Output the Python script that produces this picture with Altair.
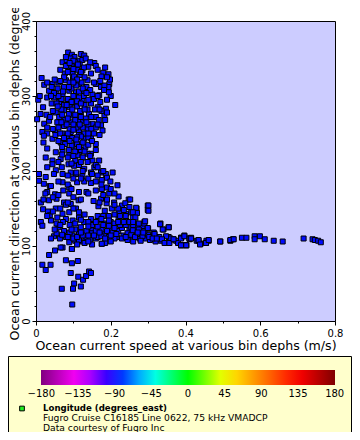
import altair as alt
import pandas as pd

# ---- data (speed m/s, direction degrees) ----
scatter_low = [
    (0.017, 75), (0.026, 68), (0.039, 75), (0.035, 88), (0.051, 94), (0.066, 98),
    (0.080, 81), (0.096, 77), (0.112, 80), (0.096, 96), (0.093, 64), (0.113, 59),
    (0.126, 55), (0.134, 60), (0.142, 66), (0.147, 64), (0.102, 50), (0.120, 46),
    (0.069, 43), (0.099, 43), (0.097, 22), (0.176, 103),
]

tail_east = [
    (0.388, 111), (0.397, 114), (0.411, 109), (0.415, 111), (0.388, 101), (0.402, 101),
    (0.435, 107), (0.440, 103), (0.455, 104), (0.462, 107), (0.493, 106), (0.520, 107),
    (0.527, 109), (0.551, 111), (0.563, 111), (0.585, 113), (0.599, 113), (0.585, 109),
    (0.612, 109), (0.636, 107), (0.660, 106), (0.716, 110), (0.740, 109), (0.746, 108),
    (0.755, 107), (0.762, 105),
    (0.252, 162), (0.268, 151), (0.270, 144), (0.259, 145), (0.301, 154), (0.301, 147),
    (0.266, 138), (0.260, 132), (0.275, 130), (0.290, 130), (0.292, 133), (0.299, 124),
    (0.259, 121), (0.272, 118), (0.287, 118), (0.303, 112), (0.317, 116), (0.312, 110),
    (0.323, 110), (0.332, 129), (0.339, 122), (0.355, 125), (0.348, 113), (0.337, 109),
    (0.344, 104), (0.357, 104), (0.368, 109), (0.388, 110), (0.397, 113), (0.411, 110),
    (0.415, 110), (0.388, 101), (0.402, 101), (0.435, 108), (0.439, 102), (0.455, 104),
    (0.462, 108), (0.493, 106), (0.520, 108), (0.529, 109),
]

cluster_upper = [
    (0.086, 358), (0.096, 355), (0.120, 356), (0.129, 354), (0.071, 345), (0.082, 348),
    (0.103, 352), (0.114, 347), (0.124, 348), (0.133, 350), (0.156, 344), (0.089, 338),
    (0.107, 338), (0.117, 342), (0.140, 339), (0.077, 330), (0.098, 330), (0.124, 334),
    (0.147, 330), (0.180, 331), (0.194, 329), (0.196, 316), (0.194, 312), (0.015, 324),
    (0.022, 315), (0.044, 316), (0.060, 318), (0.035, 307), (0.053, 305), (0.080, 321),
    (0.099, 323), (0.115, 316), (0.138, 321), (0.160, 316), (0.174, 312), (0.183, 314),
    (0.030, 298), (0.048, 298), (0.071, 302), (0.089, 307), (0.107, 305), (0.129, 307),
    (0.151, 302), (0.169, 301), (0.006, 295), (0.019, 285), (0.042, 290), (0.062, 292),
    (0.084, 294), (0.102, 290), (0.124, 294), (0.147, 290), (0.165, 285), (0.187, 283),
    (0.212, 288), (0.028, 275), (0.053, 278), (0.075, 281), (0.098, 274), (0.120, 278),
    (0.142, 276), (0.160, 272), (0.183, 274), (0.003, 269), (0.022, 263), (0.035, 267),
    (0.057, 265), (0.080, 267), (0.102, 263), (0.124, 267), (0.151, 263), (0.174, 261),
    (0.017, 252), (0.030, 250), (0.051, 254), (0.071, 250), (0.093, 252), (0.115, 254),
    (0.138, 256), (0.160, 258), (0.021, 247), (0.044, 243), (0.066, 238), (0.089, 243),
    (0.107, 241), (0.129, 243), (0.147, 244), (0.160, 236), (0.030, 230), (0.053, 225),
    (0.071, 227), (0.098, 232), (0.115, 225), (0.132, 232), (0.147, 223), (0.026, 218),
    (0.044, 214), (0.066, 216), (0.089, 221), (0.111, 221), (0.138, 223), (0.151, 214),
    (0.169, 214), (0.044, 209), (0.069, 205), (0.087, 209), (0.102, 207), (0.129, 203),
    (0.156, 205), (0.174, 198),
    (0.092, 350), (0.105, 345), (0.110, 335), (0.095, 340), (0.085, 332), (0.118, 328),
    (0.130, 325), (0.102, 326), (0.090, 318), (0.075, 312), (0.095, 310), (0.108, 314),
    (0.122, 318), (0.135, 312), (0.145, 308), (0.128, 300), (0.115, 298), (0.100, 300),
    (0.085, 296), (0.068, 296), (0.060, 300), (0.072, 306), (0.058, 310), (0.048, 304),
    (0.040, 300), (0.055, 290), (0.075, 288), (0.090, 285), (0.110, 286), (0.130, 288),
    (0.140, 295), (0.155, 296), (0.165, 300), (0.172, 292), (0.158, 282), (0.138, 282),
    (0.118, 280), (0.105, 275), (0.088, 276), (0.068, 282), (0.045, 280), (0.038, 272),
    (0.062, 272), (0.078, 268), (0.093, 265), (0.113, 268), (0.133, 270), (0.148, 272),
    (0.168, 268), (0.185, 268), (0.190, 278), (0.175, 280), (0.140, 262), (0.125, 258),
    (0.108, 258), (0.090, 256), (0.075, 260), (0.060, 258), (0.045, 256), (0.030, 258),
    (0.052, 248), (0.065, 250), (0.082, 246), (0.097, 244), (0.115, 248), (0.130, 250),
    (0.148, 256), (0.165, 262), (0.178, 254), (0.060, 240), (0.078, 236), (0.095, 234),
    (0.110, 236), (0.125, 238), (0.140, 245), (0.155, 250), (0.170, 248), (0.120, 228),
    (0.105, 226), (0.088, 228), (0.070, 232), (0.140, 235), (0.160, 228), (0.125, 218),
    (0.105, 214), (0.085, 218), (0.138, 212), (0.115, 208), (0.095, 210), (0.160, 208),
    (0.145, 220), (0.070, 222), (0.020, 238), (0.012, 276), (0.010, 300), (0.058, 286),
    (0.170, 282), (0.200, 300), (0.195, 305), (0.198, 322), (0.175, 326), (0.160, 340),
    (0.145, 345), (0.165, 335), (0.185, 338), (0.190, 325), (0.155, 318), (0.172, 320),
    (0.182, 308), (0.190, 295), (0.128, 338), (0.080, 340), (0.075, 325), (0.065, 320),
    (0.050, 322), (0.030, 318), (0.042, 312), (0.065, 335),
    (0.080, 352), (0.100, 347), (0.112, 342), (0.090, 344), (0.100, 336), (0.120, 332),
    (0.110, 322), (0.100, 318), (0.088, 312), (0.115, 306), (0.125, 310), (0.135, 304),
    (0.110, 293), (0.095, 292), (0.120, 290), (0.082, 288), (0.130, 282), (0.097, 282),
    (0.085, 270), (0.105, 268), (0.120, 272), (0.070, 275), (0.100, 262), (0.117, 262),
    (0.082, 262), (0.135, 265), (0.068, 265), (0.100, 255), (0.120, 246), (0.085, 250),
    (0.110, 245), (0.090, 240), (0.115, 232), (0.130, 226), (0.100, 220), (0.120, 212),
    (0.108, 242), (0.075, 244), (0.140, 250), (0.150, 240),
]

band_middle = [
    (0.008, 196), (0.026, 192), (0.053, 201), (0.071, 196), (0.093, 198), (0.107, 196),
    (0.124, 193), (0.147, 198), (0.165, 194), (0.187, 196), (0.190, 191), (0.008, 187),
    (0.021, 183), (0.037, 180), (0.071, 185), (0.089, 178), (0.129, 186), (0.147, 184),
    (0.176, 188), (0.199, 186), (0.218, 181), (0.030, 172), (0.051, 169), (0.073, 174),
    (0.089, 170), (0.115, 172), (0.135, 172), (0.160, 174), (0.176, 176), (0.196, 170),
    (0.221, 166), (0.248, 162), (0.013, 158), (0.035, 161), (0.055, 163), (0.075, 158),
    (0.093, 156), (0.114, 161), (0.154, 160), (0.174, 163), (0.189, 157),
    (0.209, 158), (0.230, 154), (0.239, 157), (0.250, 152), (0.269, 150), (0.019, 149),
    (0.032, 146), (0.053, 150), (0.071, 143), (0.089, 145), (0.107, 150),
    (0.167, 153), (0.184, 147), (0.203, 150), (0.223, 146), (0.241, 143),
    (0.269, 144), (0.299, 154), (0.299, 148), (0.013, 132), (0.017, 127), (0.037, 141),
    (0.057, 138), (0.080, 136), (0.098, 134), (0.115, 138), (0.129, 132), (0.147, 136),
    (0.165, 134), (0.183, 130), (0.200, 132), (0.221, 136), (0.241, 134), (0.259, 138),
    (0.268, 130), (0.290, 132), (0.048, 113), (0.064, 110), (0.080, 112), (0.098, 114),
    (0.115, 116), (0.133, 112), (0.150, 121), (0.169, 113), (0.183, 116), (0.200, 123),
    (0.216, 112), (0.234, 114), (0.250, 121), (0.260, 112), (0.277, 110), (0.294, 110),
    (0.312, 112), (0.333, 130), (0.341, 122), (0.355, 125), (0.317, 116), (0.335, 107),
    (0.348, 104), (0.357, 107), (0.368, 109), (0.389, 111), (0.411, 110), (0.430, 107),
    (0.440, 103), (0.456, 107), (0.389, 101), (0.402, 101), (0.089, 105), (0.105, 107),
    (0.124, 106), (0.176, 103), (0.096, 96), (0.071, 98),
    (0.060, 125), (0.075, 120), (0.090, 118), (0.105, 122), (0.120, 125), (0.135, 120),
    (0.150, 117), (0.160, 120), (0.175, 122), (0.190, 120), (0.205, 118), (0.220, 120),
    (0.230, 124), (0.245, 117), (0.255, 115), (0.270, 116), (0.285, 113), (0.300, 115),
    (0.210, 110), (0.195, 112), (0.160, 110), (0.145, 108), (0.130, 104), (0.115, 108),
    (0.100, 110), (0.085, 112), (0.070, 115), (0.055, 117), (0.040, 110), (0.150, 128),
    (0.165, 126), (0.180, 128), (0.195, 127), (0.210, 130), (0.225, 128), (0.240, 128),
    (0.255, 125), (0.270, 125), (0.285, 124), (0.140, 132), (0.120, 135), (0.105, 130),
    (0.090, 128), (0.072, 132), (0.055, 130), (0.040, 134), (0.030, 140), (0.045, 146),
    (0.065, 150), (0.080, 155), (0.100, 150), (0.115, 145), (0.130, 142),
    (0.165, 140), (0.180, 140), (0.195, 140), (0.210, 142), (0.225, 140), (0.240, 140),
    (0.255, 145), (0.220, 150), (0.235, 148), (0.210, 155), (0.190, 162), (0.170, 158),
    (0.140, 170), (0.120, 162), (0.100, 165), (0.085, 158), (0.060, 168), (0.045, 165),
    (0.025, 170), (0.020, 162), (0.040, 180), (0.060, 186), (0.085, 182), (0.110, 185),
    (0.120, 190), (0.140, 190), (0.160, 186), (0.175, 182), (0.190, 178), (0.200, 176),
    (0.210, 170), (0.180, 168), (0.100, 190), (0.095, 176), (0.108, 198), (0.125, 200),
    (0.085, 194), (0.150, 196), (0.165, 205), (0.180, 200), (0.205, 198), (0.030, 205),
    (0.048, 196), (0.060, 212), (0.300, 123), (0.315, 118), (0.330, 112), (0.355, 112),
    (0.360, 110), (0.375, 107), (0.380, 104), (0.320, 106), (0.305, 108), (0.280, 107),
    (0.260, 106), (0.245, 108), (0.230, 110), (0.200, 106), (0.185, 104), (0.150, 102),
    (0.140, 106), (0.110, 102), (0.165, 112), (0.175, 113),
    (0.110, 112), (0.125, 114), (0.140, 114), (0.155, 114), (0.170, 118), (0.185, 110),
    (0.200, 114), (0.215, 116), (0.240, 112), (0.265, 112), (0.120, 118), (0.095, 122),
    (0.140, 126), (0.160, 132), (0.175, 136), (0.195, 134), (0.220, 132), (0.235, 132),
    (0.250, 132), (0.260, 128), (0.275, 122), (0.290, 120), (0.210, 124), (0.065, 128),
    (0.050, 122),
]

LONGITUDE = -88.0  # all stations of this line have about the same longitude

all_points = cluster_upper + band_middle + tail_east + scatter_low
speed = [p[0] for p in all_points]
direction = [p[1] for p in all_points]

df = pd.DataFrame({"speed": speed, "direction": direction,
                   "lon": [LONGITUDE] * len(speed)})

# colour bar: label values, and colour stops (the ends are set a hair outside
# +-180 so that the end labels are centred under the bar ends)
cbar_labels = [-180, -135, -90, -45, 0, 45, 90, 135, 180]
cbar_stops = [-180.4, -135, -90, -45, 0, 45, 90, 135, 180.4]
cbar_colors = ["#800080", "#ff00ff", "#0000ff", "#00ffff", "#00ff00",
               "#ffff00", "#ff8000", "#ff0000", "#800000"]

x_tick_values = [0, 0.1, 0.2, 0.3, 0.4, 0.5, 0.6, 0.7, 0.8]
y_tick_values = list(range(0, 401, 20))

FONT = "DejaVu Sans"

x_axis = alt.Axis(
    values=x_tick_values,
    labelExpr="round(datum.value*10) % 2 == 0 ? format(datum.value, '~g') : ''",
    tickSize={"condition": {"test": "round(datum.value*10) % 2 == 1", "value": 2}, "value": 4},
    labelFont=FONT, labelFontSize=10, labelColor="black", labelPadding=3,
    labelOverlap=False, labelFlush=False,
    tickColor="black", domainColor="black", grid=False,
    title="Ocean current speed at various bin dephs (m/s)",
    titleFont=FONT, titleFontSize=12.6, titleFontWeight="normal", titleColor="black",
    titleBaseline="alphabetic", titleY=28, titleLimit=1000,
)

y_axis = alt.Axis(
    values=y_tick_values,
    labelExpr="datum.value % 100 == 0 ? format(datum.value, 'd') : ''",
    tickSize={"condition": {"test": "datum.value % 100 != 0", "value": 2}, "value": 4},
    labelAngle=270, labelAlign="center", labelBaseline="alphabetic", labelPadding=3,
    labelFont=FONT, labelFontSize=10, labelColor="black",
    labelOverlap=False, labelFlush=False,
    tickColor="black", domainColor="black", grid=False,
    title="Ocean current direction at various bin dephs (degrees_true)",
    titleFont=FONT, titleFontSize=12.6, titleFontWeight="normal", titleColor="black",
    titleAngle=270, titleAlign="left", titleBaseline="alphabetic",
    titleX=-18, titleY=319, titleLimit=1000,
)

points = alt.Chart(df).mark_square(size=25, stroke="black", strokeWidth=1, opacity=1).encode(
    x=alt.X("speed:Q", scale=alt.Scale(domain=[0, 0.8], nice=False, zero=False), axis=x_axis),
    y=alt.Y("direction:Q", scale=alt.Scale(domain=[0, 400], nice=False, zero=False), axis=y_axis),
    color=alt.Color(
        "lon:Q",
        scale=alt.Scale(domain=cbar_stops, range=cbar_colors, interpolate="rgb", nice=False, zero=False),
        legend=alt.Legend(
            orient="none", legendX=5, legendY=349, direction="horizontal",
            gradientLength=294, gradientThickness=15, title=None,
            values=cbar_labels, labelFont=FONT, labelFontSize=10, labelColor="black",
            labelOverlap=False, labelOffset=4, padding=0,
            gradientStrokeWidth=0, zindex=2,
        ),
    ),
)

legend_box = alt.Chart(pd.DataFrame({"k": [0]})).mark_rect(
    fill="#ffffcc", stroke="black", strokeWidth=1
).encode(
    x=alt.value(-27.5), x2=alt.value(315.5), y=alt.value(335.5), y2=alt.value(440)
)

legend_symbol = alt.Chart(pd.DataFrame({"k": [0]})).mark_square(
    size=22, fill="#22ee22", stroke="black", strokeWidth=1, opacity=1
).encode(x=alt.value(-14), y=alt.value(387.5))

legend_lines = pd.DataFrame({
    "text": ["Longitude (degrees_east)",
             "Fugro Cruise C16185 Line 0622, 75 kHz VMADCP",
             "Data courtesy of Fugro Inc"],
})

title_line = alt.Chart(legend_lines.iloc[[0]]).mark_text(
    align="left", baseline="middle", font=FONT, fontSize=8.6, fontWeight="bold", color="black"
).encode(x=alt.value(7), y=alt.value(386.8), text="text:N")

line2 = alt.Chart(legend_lines.iloc[[1]]).mark_text(
    align="left", baseline="middle", font=FONT, fontSize=9.2, color="black"
).encode(x=alt.value(7), y=alt.value(397), text="text:N")

line3 = alt.Chart(legend_lines.iloc[[2]]).mark_text(
    align="left", baseline="middle", font=FONT, fontSize=9.2, color="black"
).encode(x=alt.value(7), y=alt.value(406.6), text="text:N")

chart = alt.layer(legend_box, points, legend_symbol, title_line, line2, line3).properties(
    width=299, height=300,
    padding={"left": 28, "top": 13, "right": 17, "bottom": 111},
    autosize=alt.AutoSizeParams(type="none"),
    background="white",
).configure_view(
    fill="#ccccff", stroke="black", strokeWidth=1
)

chart.save("out.html", embed_options={"renderer": "svg", "actions": False})
